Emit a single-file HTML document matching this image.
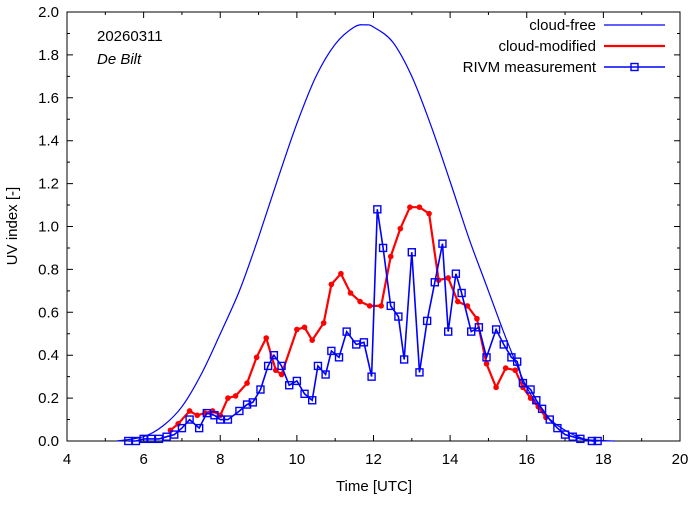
<!DOCTYPE html>
<html><head><meta charset="utf-8"><style>
body{margin:0;background:#fff}
svg{font-family:"Liberation Sans",sans-serif}
</style></head><body>
<svg id="c" width="694" height="501" viewBox="0 0 694 501"></svg>
<script>
const cfHours=[5.3,6,6.5,7,7.5,8,8.5,9,9.5,10,10.5,11,11.5,11.8,12,12.5,13,13.5,14,14.5,15,15.5,16,16.5,17,17.5,18,18.3];
const cfValues=[0,0.02,0.07,0.16,0.31,0.5,0.7,0.95,1.22,1.48,1.7,1.85,1.93,1.94,1.93,1.86,1.7,1.47,1.21,0.94,0.7,0.46,0.25,0.12,0.05,0.01,0.002,0];
const cmHours=[6.7,6.9,7.2,7.4,7.6,7.8,8.0,8.2,8.4,8.7,8.95,9.2,9.45,9.6,10.0,10.2,10.4,10.7,10.9,11.15,11.4,11.65,11.9,12.2,12.45,12.7,12.95,13.2,13.45,13.7,13.95,14.2,14.45,14.7,14.95,15.2,15.45,15.7,15.9,16.1,16.3,16.5];
const cmValues=[0.05,0.08,0.14,0.12,0.13,0.14,0.12,0.2,0.21,0.27,0.39,0.48,0.33,0.31,0.52,0.53,0.47,0.55,0.73,0.78,0.69,0.65,0.63,0.63,0.86,0.99,1.09,1.09,1.06,0.75,0.76,0.65,0.63,0.57,0.36,0.25,0.34,0.33,0.25,0.2,0.16,0.11];
const msHours=[5.6,5.8,6.0,6.2,6.4,6.6,6.8,7.0,7.2,7.45,7.65,7.85,8.0,8.2,8.5,8.7,8.85,9.05,9.25,9.4,9.6,9.8,10.0,10.2,10.4,10.55,10.75,10.9,11.1,11.3,11.55,11.75,11.95,12.1,12.25,12.45,12.65,12.8,13.0,13.2,13.4,13.6,13.8,13.95,14.15,14.3,14.55,14.75,14.95,15.2,15.4,15.6,15.75,15.9,16.1,16.25,16.4,16.6,16.8,17.0,17.2,17.4,17.7,17.85];
const msValues=[0,0,0.01,0.01,0.01,0.02,0.03,0.06,0.1,0.06,0.13,0.12,0.1,0.1,0.14,0.17,0.18,0.24,0.35,0.4,0.35,0.26,0.28,0.22,0.19,0.35,0.31,0.42,0.39,0.51,0.45,0.46,0.3,1.08,0.9,0.63,0.58,0.38,0.88,0.32,0.56,0.74,0.92,0.51,0.78,0.69,0.51,0.53,0.39,0.52,0.45,0.39,0.37,0.27,0.24,0.19,0.15,0.1,0.06,0.03,0.02,0.01,0,0];
const xTicks=[4,6,8,10,12,14,16,18,20];
const yTicks=[0,0.2,0.4,0.6,0.8,1.0,1.2,1.4,1.6,1.8,2.0];

const NS="http://www.w3.org/2000/svg",svg=document.getElementById('c');
const L=67,R=680,T=12,B=441;
const X=h=>L+(h-4)/16*(R-L), Y=v=>B-v/2*(B-T);
function el(t,a,p){const e=document.createElementNS(NS,t);for(const k in a)e.setAttribute(k,a[k]);(p||svg).appendChild(e);return e;}
const frame=el('rect',{x:L,y:T,width:R-L,height:B-T,fill:'none',stroke:'#000','stroke-width':1});


xTicks.forEach(t=>{
  const x=X(t);
  const tk=el('path',{d:`M${x},${B}v-6M${x},${T}v6`,stroke:'#000'});
  
  
  const lb=el('text',{x:x,y:B+23,'text-anchor':'middle','font-size':15});lb.textContent=t;
  
  
});
xTicks.slice(0,-1).forEach(t=>{const x=X(t+1);el('path',{d:`M${x},${B}v-3M${x},${T}v3`,stroke:'#000'});});
yTicks.forEach(t=>{
  const y=Y(t);
  const tk=el('path',{d:`M${L},${y}h6M${R},${y}h-6`,stroke:'#000'});
  
  
  const lb=el('text',{x:L-8,y:y+5,'text-anchor':'end','font-size':15});lb.textContent=t.toFixed(1);
  
  
});
yTicks.slice(0,-1).forEach(t=>{const y=Y(t+0.1);el('path',{d:`M${L},${y}h3M${R},${y}h-3`,stroke:'#000'});});
const pts=(hs,vs)=>hs.map((h,i)=>X(h).toFixed(1)+','+Y(vs[i]).toFixed(1)).join(' ');
function smooth(hs,vs){
  const p=hs.map((h,i)=>[X(h),Y(vs[i])]);
  let d=`M${p[0][0]},${p[0][1]}`;
  for(let i=0;i<p.length-1;i++){
    const p0=p[Math.max(0,i-1)],p1=p[i],p2=p[i+1],p3=p[Math.min(p.length-1,i+2)];
    const c1=[p1[0]+(p2[0]-p0[0])/6,p1[1]+(p2[1]-p0[1])/6];
    const c2=[p2[0]-(p3[0]-p1[0])/6,p2[1]-(p3[1]-p1[1])/6];
    d+=`C${c1[0].toFixed(1)},${c1[1].toFixed(1)} ${c2[0].toFixed(1)},${c2[1].toFixed(1)} ${p2[0].toFixed(1)},${p2[1].toFixed(1)}`;
  }
  return d;
}
const cf=el('path',{d:smooth(cfHours,cfValues),fill:'none',stroke:'#0000ff','stroke-width':1.2});


const cm=el('polyline',{points:pts(cmHours,cmValues),fill:'none',stroke:'#ff0000','stroke-width':2.2});


cmHours.forEach((h,i)=>{const c=el('circle',{cx:X(h),cy:Y(cmValues[i]),r:2.8,fill:'#ff0000'});
  
  });
const ms=el('polyline',{points:pts(msHours,msValues),fill:'none',stroke:'#0000ff','stroke-width':1.6});


msHours.forEach((h,i)=>{const r=el('rect',{x:X(h)-3.5,y:Y(msValues[i])-3.5,width:7,height:7,fill:'none',stroke:'#0000ff','stroke-width':1.4});
  
  });
const lg=el('g',{});


[['cloud-free',25,'#0000ff',1.2,null],['cloud-modified',46,'#ff0000',2.2,null],['RIVM measurement',67,'#0000ff',1.6,'sq']].forEach(e=>{
  const t=el('text',{x:596,y:e[1]+5,'text-anchor':'end','font-size':15},lg);t.textContent=e[0];
  
  
  el('line',{x1:604,x2:665,y1:e[1],y2:e[1],stroke:e[2],'stroke-width':e[3]},lg);
  if(e[4])el('rect',{x:631,y:e[1]-3.5,width:7,height:7,fill:'none',stroke:e[2],'stroke-width':1.4},lg);
});
const d=el('text',{x:97,y:41,'font-size':15});d.textContent='20260311';


const s=el('text',{x:97,y:64,'font-size':15,'font-style':'italic'});s.textContent='De Bilt';


const xt=el('text',{x:374,y:491,'text-anchor':'middle','font-size':15});xt.textContent='Time  [UTC]';


const yt=el('text',{x:0,y:0,'text-anchor':'middle','font-size':15,transform:`translate(17,226) rotate(-90)`});yt.textContent='UV index  [-]';


</script>
</body></html>
